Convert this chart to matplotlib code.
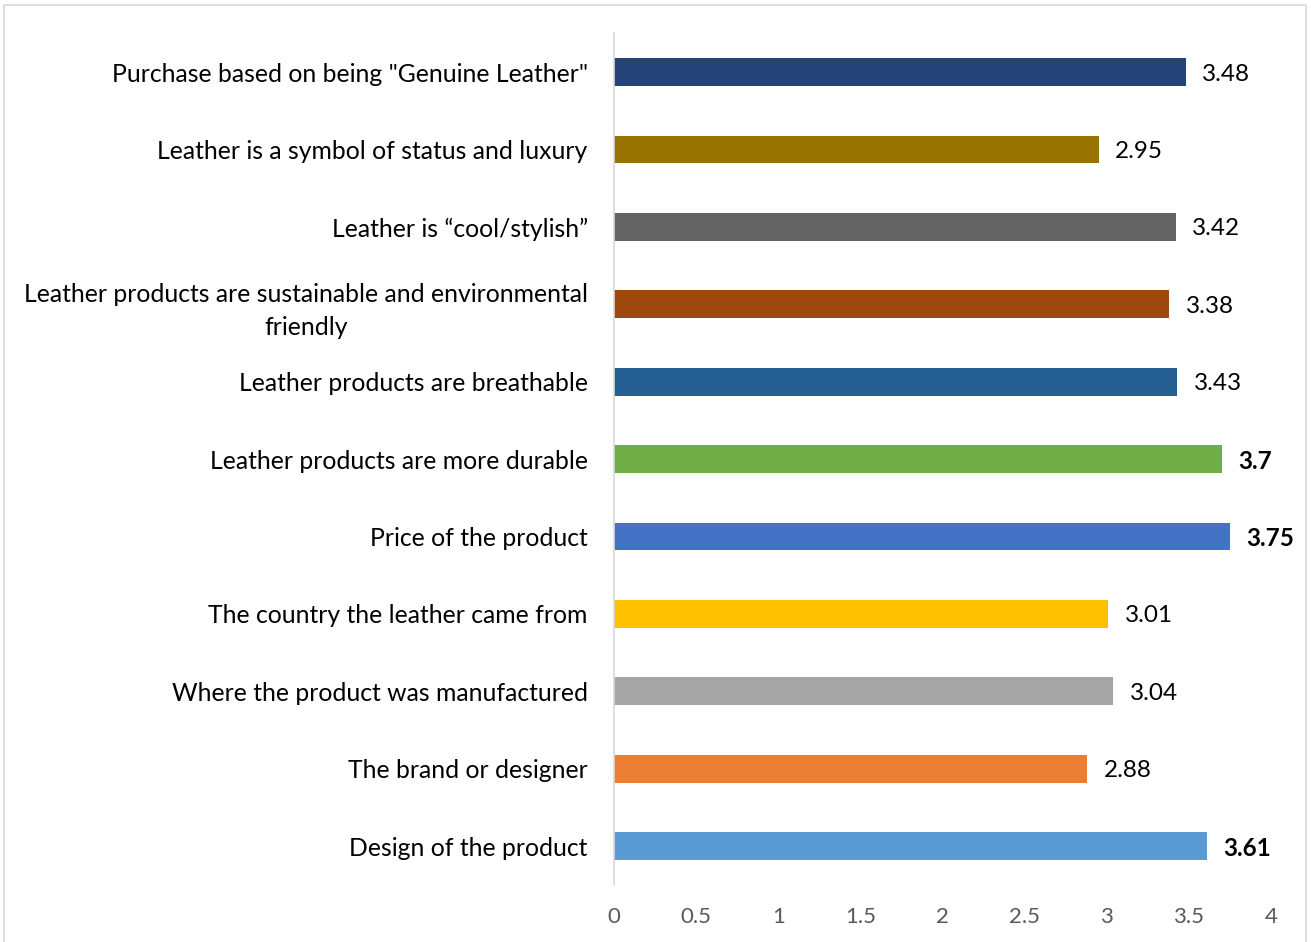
import matplotlib.pyplot as plt
from matplotlib.patches import Rectangle

# survey items, bottom to top
items = [
    "Design of the product",
    "The brand or designer",
    "Where the product was manufactured",
    "The country the leather came from",
    "Price of the product",
    "Leather products are more durable",
    "Leather products are breathable",
    "Leather products are sustainable and environmental\nfriendly",
    "Leather is \u201ccool/stylish\u201d",
    "Leather is a symbol of status and luxury",
    "Purchase based on being \"Genuine Leather\"",
]
scores = [3.61, 2.88, 3.04, 3.01, 3.75, 3.7, 3.43, 3.38, 3.42, 2.95, 3.48]
bold_labels = [True, False, False, False, True, True, False, False, False, False, False]
colors = ["#5B9BD5", "#ED7D31", "#A5A5A5", "#FFC000", "#4472C4", "#70AD47",
          "#255E91", "#9E480E", "#636363", "#997300", "#264478"]

plt.rcParams['font.family'] = ['Lato', 'DejaVu Sans']

fig = plt.figure(figsize=(13.11, 9.42), dpi=100)
ax = fig.add_axes([0.4684, 0.0608, 0.5011, 0.9038])

ypos = list(range(len(items)))
ax.barh(ypos, scores, height=0.36, color=colors)

for y, v, b in zip(ypos, scores, bold_labels):
    ax.text(v + 0.1, y, f"{v:g}", va='center_baseline', ha='left', fontsize=17.5,
            fontweight='bold' if b else 'normal', color='black')

ax.set_xlim(0, 4)
ax.set_ylim(-0.5, len(items) - 0.5)
ax.set_xticks([0, 0.5, 1, 1.5, 2, 2.5, 3, 3.5, 4])
ax.set_xticklabels(["0", "0.5", "1", "1.5", "2", "2.5", "3", "3.5", "4"])
ax.set_yticks(ypos)
ax.set_yticklabels(items, fontsize=17.8, multialignment='center', linespacing=1.5)
ax.tick_params(axis='x', length=0, pad=16, labelsize=16, labelcolor='#595959')
ax.tick_params(axis='y', length=0, pad=19, labelcolor='black')

for s in ['top', 'right', 'bottom']:
    ax.spines[s].set_visible(False)
ax.spines['left'].set_color('#D9D9D9')
ax.spines['left'].set_linewidth(1.2)

# thin frame round the chart area
fig.patches.append(Rectangle((0.003, -0.01), 0.993, 1.005, transform=fig.transFigure,
                             fill=False, edgecolor='#D9D9D9', linewidth=1.2))

fig.savefig("out.png", dpi=100)
